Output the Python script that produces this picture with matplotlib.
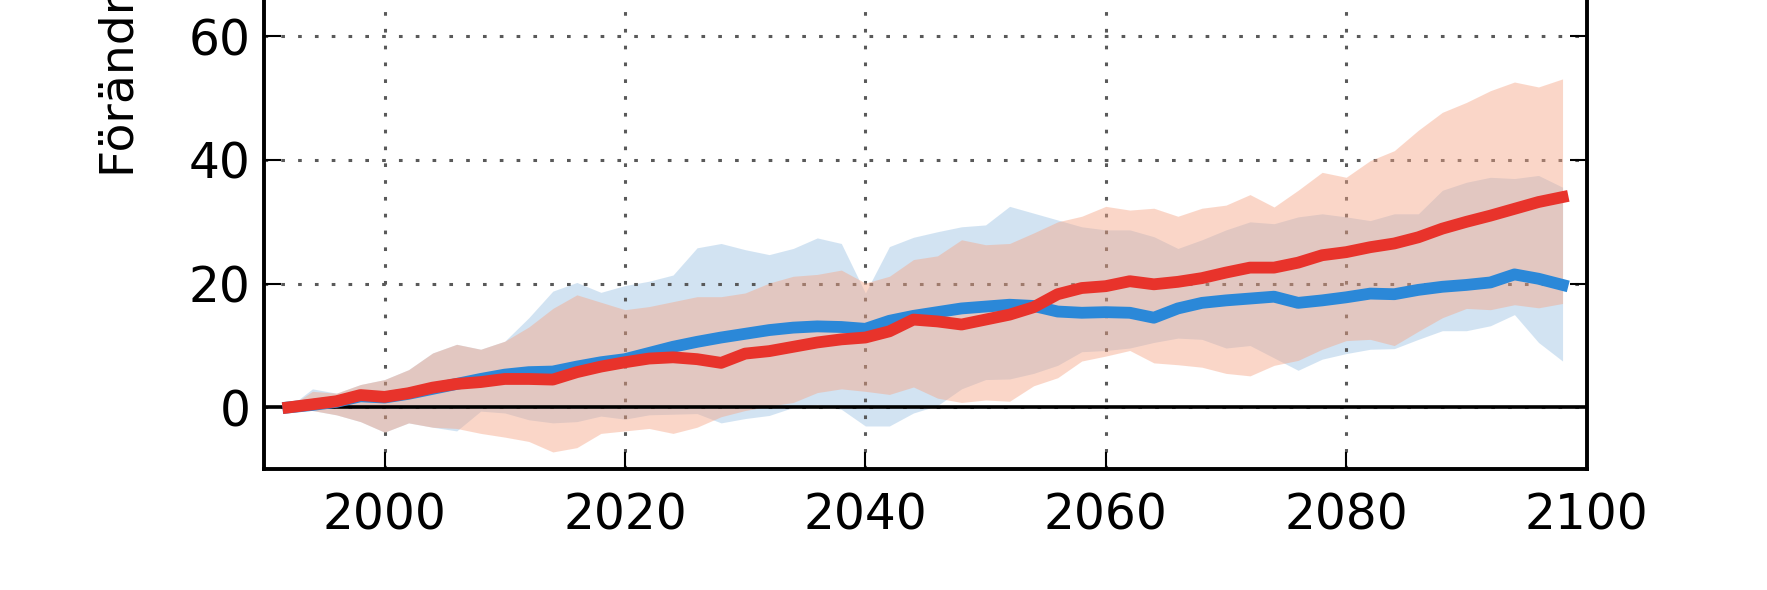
import numpy as np
import matplotlib
matplotlib.use("Agg")
import matplotlib.pyplot as plt

# years (every second year)
years = list(range(1992, 2100, 2))

# median change, two scenarios
red_mid = [0.0, 0.5, 1.0, 2.0, 1.7, 2.3, 3.2, 3.8, 4.1, 4.6, 4.6, 4.5, 5.7, 6.6,
           7.3, 7.9, 8.1, 7.8, 7.2, 8.7, 9.1, 9.8, 10.5, 11.0, 11.3, 12.3, 14.2, 13.9,
           13.4, 14.2, 15.0, 16.2, 18.3, 19.3, 19.6, 20.4, 19.9, 20.3, 20.9, 21.8, 22.6, 22.6,
           23.4, 24.6, 25.1, 25.9, 26.5, 27.5, 28.9, 30.0, 31.0, 32.1, 33.2, 34.0]
blue_mid = [0.0, 0.4, 0.9, 1.8, 1.6, 2.2, 3.0, 3.8, 4.6, 5.3, 5.7, 5.8, 6.6, 7.3,
            7.8, 8.8, 9.8, 10.6, 11.3, 11.9, 12.5, 12.9, 13.1, 13.0, 12.7, 14.0, 14.8, 15.4,
            16.0, 16.3, 16.6, 16.4, 15.5, 15.3, 15.4, 15.3, 14.5, 16.0, 16.9, 17.3, 17.6, 17.9,
            16.9, 17.3, 17.8, 18.4, 18.3, 19.0, 19.5, 19.8, 20.2, 21.5, 20.8, 19.8]

# spread (upper / lower)
red_hi = [0.0, 2.6, 2.3, 3.7, 4.5, 6.1, 8.8, 10.2, 9.4, 10.7, 13.0, 16.0, 18.2, 17.0,
          15.8, 16.3, 17.1, 17.9, 17.9, 18.5, 20.1, 21.2, 21.5, 22.2, 20.1, 21.2, 23.9, 24.5,
          27.1, 26.3, 26.5, 28.2, 30.0, 30.9, 32.5, 31.9, 32.2, 30.9, 32.2, 32.7, 34.4, 32.4,
          35.1, 38.0, 37.2, 39.9, 41.5, 44.8, 47.7, 49.3, 51.2, 52.6, 51.8, 53.1]
red_lo = [0.0, -0.5, -1.2, -2.3, -4.0, -2.5, -3.2, -3.4, -4.2, -4.8, -5.5, -7.2, -6.5, -4.2,
          -3.8, -3.4, -4.2, -3.2, -1.5, -0.5, 0.2, 0.8, 2.4, 3.0, 2.6, 2.1, 3.3, 1.5,
          0.8, 1.2, 1.0, 3.5, 4.8, 7.5, 8.3, 9.2, 7.2, 6.9, 6.5, 5.5, 5.1, 6.8,
          7.6, 9.4, 10.8, 11.0, 10.0, 12.3, 14.5, 16.0, 15.8, 16.6, 16.1, 16.8]
blue_hi = [0.0, 3.0, 2.3, 3.7, 4.5, 6.1, 8.8, 10.2, 9.4, 10.7, 14.5, 18.8, 20.2, 18.6,
           19.7, 20.4, 21.4, 25.8, 26.5, 25.5, 24.7, 25.7, 27.4, 26.5, 18.5, 26.0, 27.5, 28.4,
           29.2, 29.5, 32.5, 31.4, 30.3, 29.2, 28.7, 28.7, 27.6, 25.7, 27.1, 28.7, 30.0, 29.7,
           30.8, 31.3, 30.8, 30.2, 31.3, 31.3, 35.1, 36.4, 37.2, 37.0, 37.5, 35.6]
blue_lo = [0.0, -0.5, -1.2, -2.3, -4.0, -2.5, -3.2, -3.8, -0.6, -0.9, -2.0, -2.5, -2.3, -1.4,
           -1.9, -1.2, -1.1, -1.0, -2.5, -1.8, -1.3, 0.0, 0.5, -0.3, -3.0, -3.0, -0.9, 0.3,
           3.0, 4.5, 4.6, 5.5, 6.8, 9.0, 9.2, 9.6, 10.5, 11.2, 11.0, 9.6, 10.0, 8.0,
           6.0, 7.8, 8.7, 9.4, 9.5, 11.0, 12.4, 12.4, 13.2, 15.0, 10.5, 7.5]

xticks = [2000, 2020, 2040, 2060, 2080, 2100]
yticks = [0, 20, 40, 60]

fig = plt.figure(figsize=(17.67, 5.9), dpi=100)
# axes reach above the top edge: the picture is a crop
ax = fig.add_axes([0.1496, 0.2046, 0.7483, 0.9437])

ax.fill_between(years, blue_lo, blue_hi, color='#6ca5d7', alpha=0.3, lw=0, zorder=1)
ax.fill_between(years, red_lo, red_hi, color='#f6a687', alpha=0.45, lw=0, zorder=2)
ax.axhline(0, color='black', lw=2.6, zorder=3)
ax.plot(years, blue_mid, color='#2b88d8', lw=8.5, zorder=4)
ax.plot(years, red_mid, color='#e8332b', lw=8.5, zorder=5)

ax.set_xlim(1990, 2100)
ax.set_ylim(-10, 80)
ax.set_xticks(xticks)
ax.set_yticks(yticks)
ax.grid(True, color='0.35', lw=2.2, linestyle=(0, (1.2, 4.3)))
ax.tick_params(direction='in', top=True, right=True, length=12, width=1.5,
               labelsize=35, color='black')
ax.tick_params(axis='y', pad=10)
ax.tick_params(axis='x', pad=16)
for s in ax.spines.values():
    s.set_linewidth(2.8)

ax.set_ylabel('Förändring (%)', fontsize=34, ha='left', va='baseline')
ax.yaxis.set_label_coords(-0.0986, 0.525)

fig.savefig('out.png', dpi=100)
